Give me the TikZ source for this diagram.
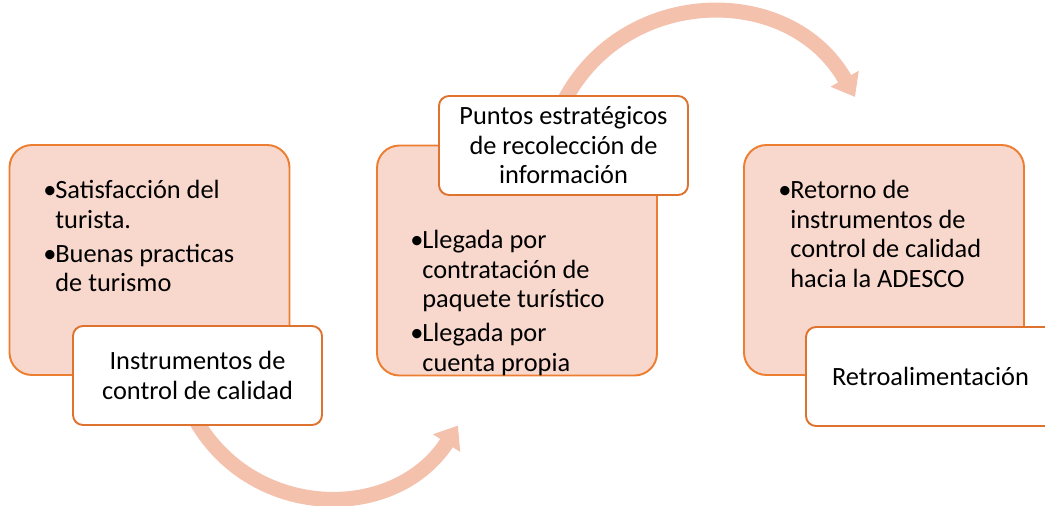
\documentclass[tikz,border=0pt]{standalone}
\usepackage{fontspec}
\setmainfont{Carlito}
\usetikzlibrary{arrows.meta,backgrounds}
\definecolor{rim}{HTML}{ED7D31}
\definecolor{rimdark}{HTML}{DE7330}
\definecolor{blush}{HTML}{F8D8CD}
\definecolor{salmon}{HTML}{F4C1AD}
\newcommand{\fs}{\fontsize{15}{16.8}\selectfont}
\newcommand{\bul}{\makebox[0.24cm][l]{•}}
\newcommand{\ind}{\hspace*{0.24cm}}

\begin{document}
\begin{tikzpicture}[
   card/.style={rectangle,rounded corners=0.45cm,draw=rim,line width=1.1pt,fill=blush,
                minimum width=5.6cm,minimum height=4.6cm},
   tag/.style={rectangle,rounded corners=0.2cm,draw=rimdark,line width=1.1pt,fill=white,
               minimum width=4.98cm,minimum height=1.98cm,align=center,font=\fs},
   body/.style={anchor=north west,align=left,inner sep=0pt,font=\fs},
   flow/.style={salmon,line width=0.3cm,-{Triangle[length=0.42cm,width=0.62cm]}}]
  \clip (0,0) rectangle (20.9,10.1);
  % three stages
  \node[card] (c1) at (2.99,4.9) {};
  \node[card] (c2) at (10.34,4.89) {};
  \node[card] (c3) at (17.68,4.9) {};
  \node[body] (b1) at (0.86,6.5)
     {\bul Satisfacción del\\\ind turista.\\[2.5pt]\bul Buenas practicas\\\ind de turismo};
  \node[body] (b2) at (8.2,5.5)
     {\bul Llegada por\\\ind contratación de\\\ind paquete turístico\\[2.5pt]\bul Llegada por\\\ind cuenta propia};
  \node[body] (b3) at (15.56,6.5)
     {\bul Retorno de\\\ind instrumentos de\\\ind control de calidad\\\ind hacia la ADESCO};
  % labels
  \node[tag] (t1) at (3.95,2.59) {Instrumentos de\\control de calidad};
  \node[tag] (t2) at (11.27,7.19) {Puntos estratégicos\\de recolección de\\información};
  \node[tag] (t3) at (18.61,2.57) {Retroalimentación};
  % curved arrows
  \coordinate (h1) at (9.16,1.59);
  \coordinate (h2) at (17.1,8.16);
  \begin{scope}[on background layer]
    \draw[flow] ([xshift=-0.08cm,yshift=0.2cm]t1.south) to[out=-62,in=-123,distance=2.36cm] (h1);
    \draw[flow] ([xshift=-0.05cm,yshift=-0.25cm]t2.north) to[out=65,in=119.5,distance=2.69cm] (h2);
  \end{scope}
\end{tikzpicture}
\end{document}
